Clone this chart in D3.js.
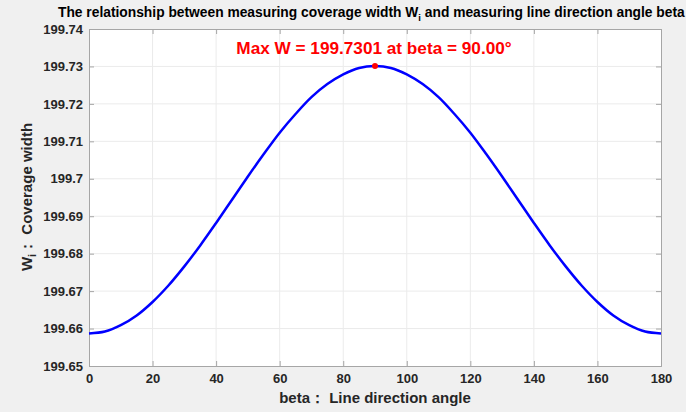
<!DOCTYPE html>
<html><head><meta charset="utf-8">
<script src="https://cdn.jsdelivr.net/npm/d3@7"></script>
<style>
body{margin:0;background:#f0f0f0;}
svg{display:block;font-family:"Liberation Sans",Arial,sans-serif;}
</style></head>
<body>
<svg id="c" width="686" height="412"></svg>
<script>
const betaValues = [0,5,10,15,20,25,30,35,40,45,50,55,60,65,70,75,80,85,90,
                    95,100,105,110,115,120,125,130,135,140,145,150,155,160,165,170,175,180];
const widthValues = [199.6587,199.6592,199.6609,199.6635,199.6671,199.6715,199.6766,199.6822,199.6882,199.6944,
                     199.7006,199.7066,199.7123,199.7173,199.7218,199.7253,199.7279,199.7296,199.7301,
                     199.7296,199.7279,199.7253,199.7218,199.7173,199.7123,199.7066,199.7006,199.6944,
                     199.6882,199.6822,199.6766,199.6715,199.6671,199.6635,199.6609,199.6592,199.6587];
const xTicks = [0,20,40,60,80,100,120,140,160,180];
const xTickLabels = ["0","20","40","60","80","100","120","140","160","180"];
const yTicks = [199.65,199.66,199.67,199.68,199.69,199.70,199.71,199.72,199.73,199.74];
const yTickLabels = ["199.65","199.66","199.67","199.68","199.69","199.7","199.71","199.72","199.73","199.74"];
const maxBeta = 90, maxW = 199.7301;

const svg = d3.select("#c");
const L = 89, R = 661, T = 29, B = 366;
const x = d3.scaleLinear().domain([0,180]).range([L,R]);
const y = d3.scaleLinear().domain([199.65,199.74]).range([B,T]);

svg.append("rect").attr("x",L).attr("y",T).attr("width",R-L).attr("height",B-T).attr("fill","#fff");

// grid
svg.append("g").selectAll("line").data(xTicks.slice(1,-1)).join("line")
  .attr("x1",d=>x(d)).attr("x2",d=>x(d)).attr("y1",T).attr("y2",B)
  .attr("stroke","#ebebeb").attr("stroke-width",1);
svg.append("g").selectAll("line").data(yTicks.slice(1,-1)).join("line")
  .attr("y1",d=>y(d)).attr("y2",d=>y(d)).attr("x1",L).attr("x2",R)
  .attr("stroke","#ebebeb").attr("stroke-width",1);

const axisColor = "#a6a6a6";
const xi = {}; xTicks.forEach((t,i)=>xi[t]=xTickLabels[i]);
const yi = {}; yTicks.forEach((t,i)=>yi[t.toFixed(2)]=yTickLabels[i]);

const gx = svg.append("g").attr("transform",`translate(0,${B})`)
  .call(d3.axisBottom(x).tickValues(xTicks).tickSize(-5).tickPadding(8).tickFormat(d=>xi[d]));
const gxTop = svg.append("g").attr("transform",`translate(0,${T})`)
  .call(d3.axisTop(x).tickValues(xTicks).tickSize(-5).tickFormat(""));
const gy = svg.append("g").attr("transform",`translate(${L},0)`)
  .call(d3.axisLeft(y).tickValues(yTicks).tickSize(-5).tickPadding(6).tickFormat(d=>yi[d.toFixed(2)]));
const gyR = svg.append("g").attr("transform",`translate(${R},0)`)
  .call(d3.axisRight(y).tickValues(yTicks).tickSize(-5).tickFormat(""));
[gx,gxTop,gy,gyR].forEach(g=>{
  g.select(".domain").attr("stroke",axisColor);
  g.selectAll(".tick line").attr("stroke",axisColor);
  g.selectAll("text").attr("fill","#262626").attr("font-size","13px").attr("font-weight","bold")
    .attr("font-family","'Liberation Sans',Arial,sans-serif");
});

// curve
const line = d3.line().x((d,i)=>x(betaValues[i])).y(d=>y(d)).curve(d3.curveCatmullRom.alpha(0.5));
svg.append("path").datum(widthValues).attr("d",line)
  .attr("fill","none").attr("stroke","#0000ff").attr("stroke-width",2.5);

// max point
svg.append("circle").attr("cx",x(maxBeta)).attr("cy",y(maxW)).attr("r",3).attr("fill","#ff0000");
svg.append("text").attr("x",x(maxBeta)-1).attr("y",y(maxW)-12).attr("text-anchor","middle")
  .attr("fill","#ff0000").attr("font-size","17.2px").attr("font-weight","bold")
  .text(`Max W = ${maxW.toFixed(4)} at beta = ${maxBeta.toFixed(2)}°`);

// title
const title = svg.append("text").attr("x",58).attr("y",17).attr("font-size","13.8px").attr("font-weight","bold").attr("fill","#000");
title.append("tspan").text("The relationship between measuring coverage width W");
title.append("tspan").attr("font-size","9.5px").attr("dy",4).text("i");
title.append("tspan").attr("dy",-4).text(" and measuring line direction angle beta");

// axis labels
svg.append("text").attr("x",375).attr("y",403).attr("text-anchor","middle")
  .attr("font-size","15px").attr("font-weight","bold").attr("fill","#262626")
  .text("beta\uFF1A Line direction angle");
const yl = svg.append("text").attr("transform","translate(32,197) rotate(-90)").attr("text-anchor","middle")
  .attr("font-size","15px").attr("font-weight","bold").attr("fill","#262626");
yl.append("tspan").text("W");
yl.append("tspan").attr("font-size","11px").attr("dy",4).text("i");
yl.append("tspan").attr("dy",-4).text("\uFF1A Coverage width");
</script>
</body></html>
